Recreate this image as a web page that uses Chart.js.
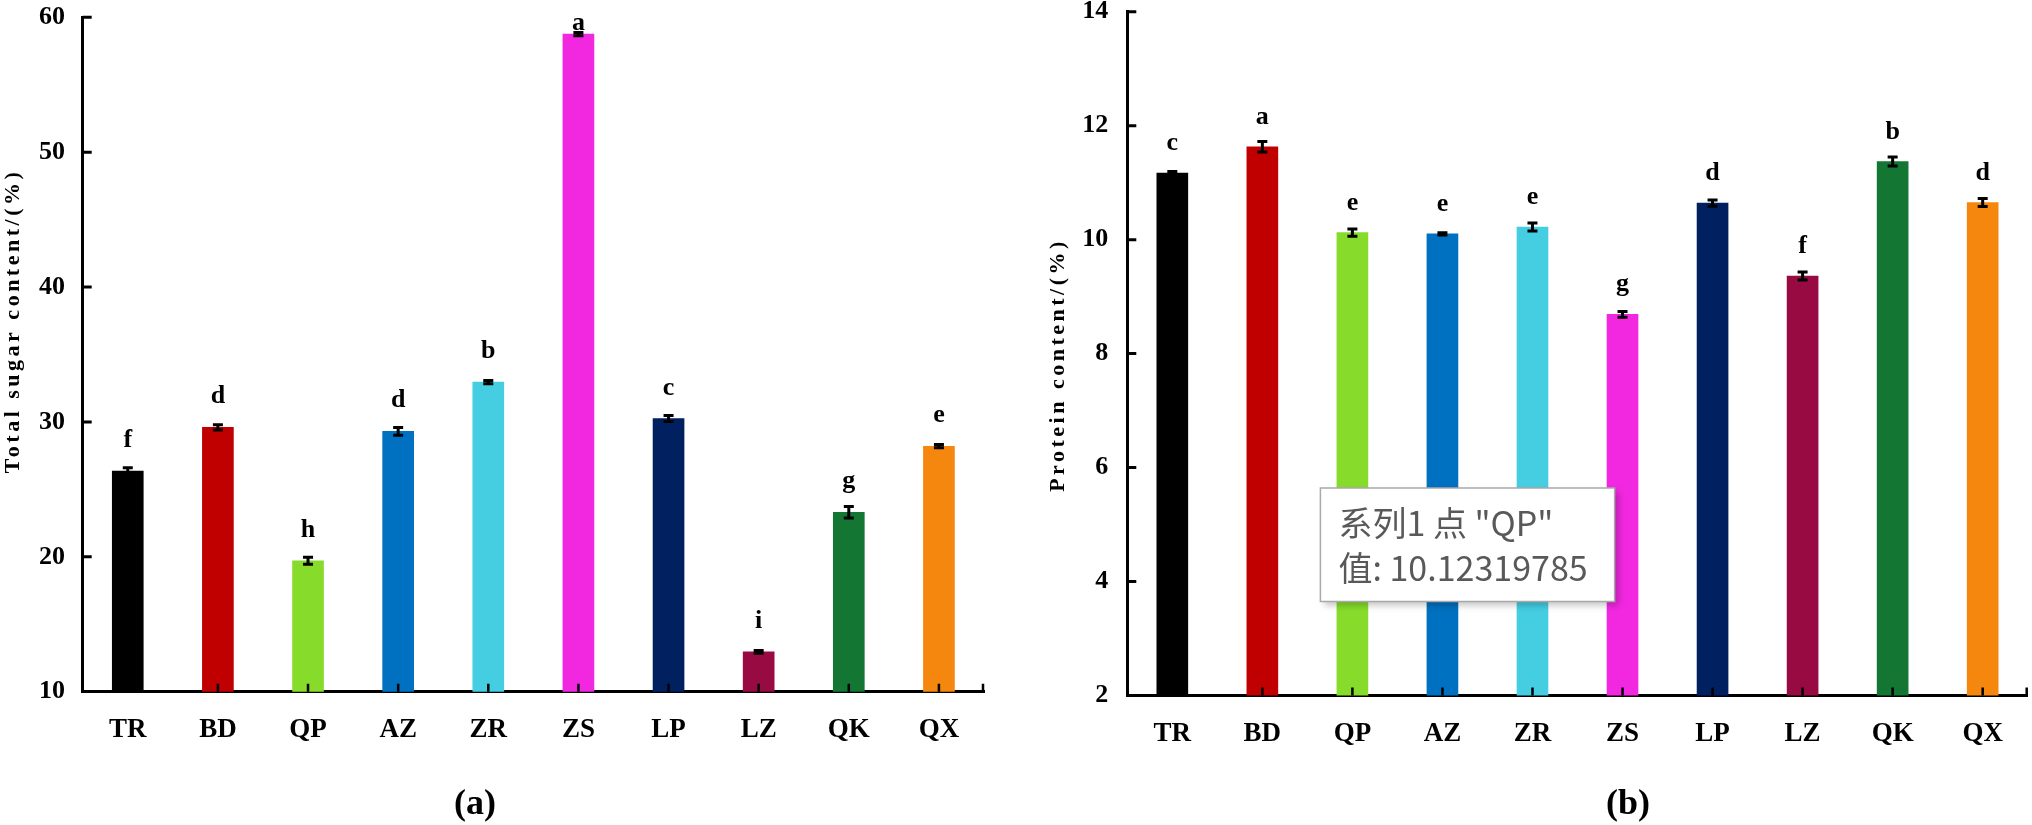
<!DOCTYPE html>
<html>
<head>
<meta charset="utf-8">
<title>Total sugar and protein content</title>
<script src="https://cdn.jsdelivr.net/npm/chart.js@4.4.1/dist/chart.umd.min.js"></script>
<style>
  html, body { margin: 0; padding: 0; background: #fff; }
  #wrap { position: relative; width: 2032px; height: 825px; }
  .panel { position: absolute; top: 0; width: 1016px; height: 825px; }
  #panelA { left: 0; }
  #panelB { left: 1016px; }
</style>
</head>
<body>
<div id="wrap">
  <div class="panel" id="panelA"><canvas id="sugarChart"></canvas></div>
  <div class="panel" id="panelB"><canvas id="proteinChart"></canvas></div>
</div>

<script>
// data
var cultivars = ['TR', 'BD', 'QP', 'AZ', 'ZR', 'ZS', 'LP', 'LZ', 'QK', 'QX'];
var barColors = ['#000000', '#c00000', '#87dc2b', '#0070c0', '#45cde2',
                 '#f128e0', '#002060', '#970a42', '#137632', '#f5870f'];

var sugarValues  = [26.35, 29.6, 19.7, 29.3, 32.95, 58.75, 30.25, 12.95, 23.3, 28.2];
var sugarErrors  = [0.25, 0.2, 0.26, 0.28, 0.12, 0.12, 0.22, 0.1, 0.43, 0.12];
var sugarLetters = ['f', 'd', 'h', 'd', 'b', 'a', 'c', 'i', 'g', 'e'];
var sugarTicks   = [10, 20, 30, 40, 50, 60];

var proteinValues  = [11.17, 11.63, 10.12319785, 10.10, 10.22, 8.69, 10.64, 9.36, 11.37, 10.65];
var proteinErrors  = [0.025, 0.09, 0.065, 0.02, 0.07, 0.05, 0.055, 0.07, 0.08, 0.07];
var proteinLetters = ['c', 'a', 'e', 'e', 'e', 'g', 'd', 'f', 'b', 'd'];
var proteinTicks   = [2, 4, 6, 8, 10, 12, 14];

var serif = "'Times New Roman', 'Liberation Serif', serif";
var cjk = "'Microsoft YaHei', 'Noto Sans CJK SC', sans-serif";

// error bars, letters, inward tick marks, rotated axis title, panel tag
var annotate = {
  id: 'annotate',
  afterDatasetsDraw: function (chart, args, opts) {
    var ctx = chart.ctx, ys = chart.scales.y, xs = chart.scales.x, area = chart.chartArea;
    var meta = chart.getDatasetMeta(0);
    ctx.save();
    ctx.strokeStyle = '#000';
    ctx.fillStyle = '#000';

    ctx.lineWidth = 3;
    opts.values.forEach(function (v, i) {
      var cx = meta.data[i].x;
      var yt = ys.getPixelForValue(v + opts.errors[i]);
      var yb = ys.getPixelForValue(v - opts.errors[i]);
      ctx.beginPath();
      ctx.moveTo(cx, yt); ctx.lineTo(cx, yb);
      ctx.moveTo(cx - 5, yt); ctx.lineTo(cx + 5, yt);
      ctx.moveTo(cx - 5, yb); ctx.lineTo(cx + 5, yb);
      ctx.stroke();
    });

    ctx.font = 'bold 26px ' + serif;
    ctx.textAlign = 'center';
    ctx.textBaseline = 'alphabetic';
    opts.letters.forEach(function (s, i) {
      var el = meta.data[i];
      var by = Math.max(el.y - opts.gap, area.top + 13);
      ctx.fillText(s, el.x, by);
    });

    // tick marks pointing into the plot
    ctx.lineWidth = 3;
    ctx.beginPath();
    ys.ticks.forEach(function (t) {
      if (t.value === ys.min) return;
      var py = ys.getPixelForValue(t.value);
      ctx.moveTo(area.left, py); ctx.lineTo(area.left + 9, py);
    });
    ctx.stroke();
    ctx.lineWidth = 2.5;
    ctx.beginPath();
    for (var i = 0; i < cultivars.length; i++) {
      var px = xs.getPixelForTick(i);
      ctx.moveTo(px, area.bottom); ctx.lineTo(px, area.bottom - 8);
    }
    ctx.moveTo(area.right - 1, area.bottom); ctx.lineTo(area.right - 1, area.bottom - 8);
    ctx.stroke();
    ctx.restore();
  },
  afterDraw: function (chart, args, opts) {
    var ctx = chart.ctx;
    ctx.save();
    ctx.fillStyle = '#000';
    ctx.font = 'bold 22px ' + serif;
    ctx.letterSpacing = '3.5px';
    ctx.translate(opts.titleX, opts.titleY);
    ctx.rotate(-Math.PI / 2);
    ctx.textAlign = 'center';
    ctx.textBaseline = 'middle';
    ctx.fillText(opts.title, 0, 0);
    ctx.restore();

    ctx.save();
    ctx.fillStyle = '#000';
    ctx.font = 'bold 36px ' + serif;
    ctx.textAlign = 'center';
    ctx.textBaseline = 'middle';
    ctx.fillText(opts.tag, opts.tagX, 805);
    ctx.restore();
  },
  beforeTooltipDraw: function (chart, args) {
    var tt = args.tooltip, ctx = chart.ctx;
    if (!tt.opacity) return;
    ctx.save();
    ctx.fillStyle = 'rgba(0,0,0,0.22)';
    ctx.filter = 'blur(3px)';
    ctx.fillRect(tt.x + 4, tt.y + 4, tt.width, tt.height);
    ctx.restore();
  }
};

Chart.Tooltip.positioners.pinned = function (items) {
  if (!items.length) return false;
  return { x: items[0].element.x - 32, y: 488 };
};

function makeChart(id, values, ticks, cfg) {
  return new Chart(document.getElementById(id), {
    type: 'bar',
    data: {
      labels: cultivars,
      datasets: [{
        label: '系列1',
        data: values,
        backgroundColor: barColors,
        borderWidth: 0,
        barThickness: 31
      }]
    },
    options: {
      responsive: true,
      maintainAspectRatio: false,
      animation: false,
      events: [],
      layout: { padding: { left: 0, right: cfg.padRight, top: cfg.padTop, bottom: 0 } },
      scales: {
        x: {
          type: 'category',
          grid: { display: false, drawTicks: false, tickLength: 0 },
          border: { display: true, color: '#000', width: 3 },
          ticks: { color: '#000', padding: 22, font: { family: serif, size: 27, weight: 'bold' } },
          afterFit: function (s) {
            s.height = cfg.xHeight;
            s.paddingLeft = 0; s.paddingRight = 0;
          }
        },
        y: {
          min: ticks[0],
          max: ticks[ticks.length - 1],
          afterBuildTicks: function (s) { s.ticks = ticks.map(function (v) { return { value: v }; }); },
          grid: { display: false, drawTicks: false, tickLength: 0 },
          border: { display: true, color: '#000', width: 3 },
          ticks: { color: '#000', padding: cfg.yPad, font: { family: serif, size: 26, weight: 'bold', lineHeight: 0.8 } },
          afterFit: function (s) {
            s.width = cfg.yWidth;
            s.paddingTop = 0; s.paddingBottom = 0;
          }
        }
      },
      plugins: {
        legend: { display: false },
        title: { display: false },
        tooltip: cfg.tooltip || { enabled: false },
        annotate: {
          values: values, errors: cfg.errors, letters: cfg.letters, gap: cfg.gap,
          title: cfg.title, titleX: cfg.titleX, titleY: cfg.titleY,
          tag: cfg.tag, tagX: cfg.tagX
        }
      }
    },
    plugins: [annotate]
  });
}

var sugarChart = makeChart('sugarChart', sugarValues, sugarTicks, {
  padRight: 32, padTop: 17.3, xHeight: 133.3, yWidth: 82.7, yPad: 17.7,
  errors: sugarErrors, letters: sugarLetters, gap: 24,
  title: 'Total sugar content/(%)', titleX: 13.5, titleY: 321,
  tag: '(a)', tagX: 475
});

var proteinChart = makeChart('proteinChart', proteinValues, proteinTicks, {
  padRight: 4.3, padTop: 11.7, xHeight: 129.5, yWidth: 111.3, yPad: 19,
  errors: proteinErrors, letters: proteinLetters, gap: 23,
  title: 'Protein content/(%)', titleX: 42, titleY: 365,
  tag: '(b)', tagX: 612,
  tooltip: {
    enabled: true,
    animation: false,
    position: 'pinned',
    xAlign: 'left',
    yAlign: 'top',
    caretSize: 0,
    caretPadding: 0,
    cornerRadius: 0,
    backgroundColor: '#ffffff',
    borderColor: '#a9a9a9',
    borderWidth: 1.5,
    titleColor: '#595959',
    bodyColor: '#595959',
    titleFont: { family: cjk, size: 34, weight: 'normal', lineHeight: 1.2 },
    bodyFont: { family: cjk, size: 34, weight: 'normal', lineHeight: 1.2 },
    titleMarginBottom: 4,
    padding: { top: 15, bottom: 13, left: 18, right: 27 },
    displayColors: false,
    callbacks: {
      title: function (items) { return '系列1 点 "' + items[0].label + '"'; },
      label: function (c) { return '值: ' + c.raw; }
    }
  }
});

proteinChart.tooltip.setActiveElements([{ datasetIndex: 0, index: cultivars.indexOf('QP') }], { x: 0, y: 0 });
proteinChart.update();
</script>
</body>
</html>
